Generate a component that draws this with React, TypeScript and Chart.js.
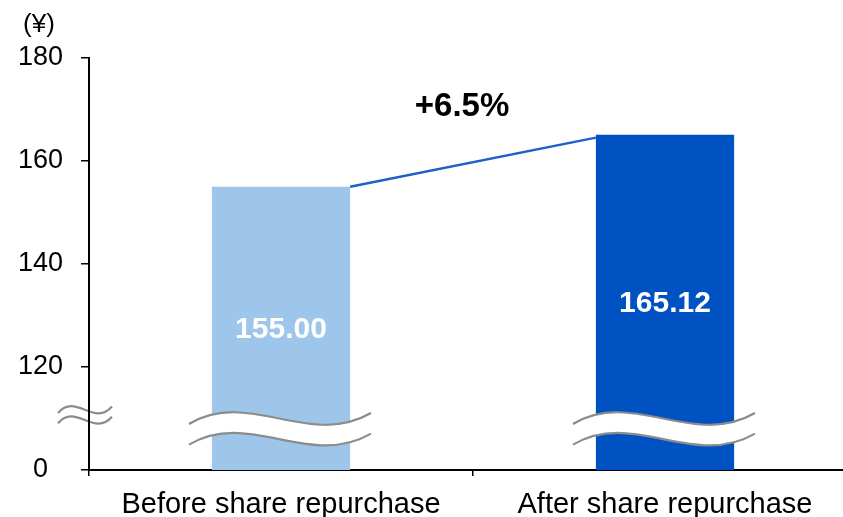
import React, { useEffect, useRef } from "react";
import { Chart, registerables } from "chart.js";

Chart.register(...registerables);

const categories = ["Before share repurchase", "After share repurchase"];
const values = [155.0, 165.12];
const valueLabels = ["155.00", "165.12"];
const barColors = ["#9DC6EA", "#0052C2"];
const yTickValues = [100, 120, 140, 160, 180];
const yTickLabels = ["0", "120", "140", "160", "180"];
const changeLabel = "+6.5%";
const unitLabel = "(¥)";
const axisMin = 100;
const axisMax = 180;
const breakValues = [110, 106];
const axisBreakValues = [111.7, 109.7];
const changeLabelValue = 170.5;

const FONT = "'Liberation Sans', Arial, sans-serif";

function wave(ctx: CanvasRenderingContext2D, x0: number, w: number, y: number, a: number, move: boolean) {
  if (move) ctx.moveTo(x0, y + a);
  ctx.bezierCurveTo(x0 + w * 0.33, y - a * 5.5, x0 + w * 0.66, y + a * 5.5, x0 + w, y - a);
}
function waveBack(ctx: CanvasRenderingContext2D, x0: number, w: number, y: number, a: number) {
  ctx.lineTo(x0 + w, y - a);
  ctx.bezierCurveTo(x0 + w * 0.66, y + a * 5.5, x0 + w * 0.33, y - a * 5.5, x0, y + a);
}

const decorPlugin = {
  id: "decor",
  beforeDraw(chart: any) {
    const ctx = chart.ctx as CanvasRenderingContext2D;
    const ys = chart.scales.y;
    const ax = chart.chartArea.left;
    ctx.save();
    ctx.strokeStyle = "#8C8C8C";
    ctx.lineWidth = 2.2;
    for (const v of axisBreakValues) {
      ctx.beginPath();
      wave(ctx, ax - 31, 54, ys.getPixelForValue(v), 3.2, true);
      ctx.stroke();
    }
    ctx.restore();
  },
  afterDatasetsDraw(chart: any) {
    const ctx = chart.ctx as CanvasRenderingContext2D;
    const ys = chart.scales.y;
    const xs = chart.scales.x;
    const meta = chart.getDatasetMeta(0);
    const bars = meta.data as any[];
    const basePx = ys.getPixelForValue(axisMin);
    ctx.save();
    // connector line
    const b0 = bars[0];
    const b1 = bars[1];
    ctx.strokeStyle = "#1F5FC9";
    ctx.lineWidth = 2.4;
    ctx.beginPath();
    ctx.moveTo(b0.x + b0.width / 2, b0.y);
    ctx.lineTo(b1.x - b1.width / 2, b1.y + 3);
    ctx.stroke();

    // breaks on bars
    const y1 = ys.getPixelForValue(breakValues[0]);
    const y2 = ys.getPixelForValue(breakValues[1]);
    for (const b of bars) {
      const x0 = b.x - 92;
      const w = 182;
      ctx.fillStyle = "#FFFFFF";
      ctx.beginPath();
      wave(ctx, x0, w, y1, 5.5, true);
      waveBack(ctx, x0, w, y2, 5.5);
      ctx.closePath();
      ctx.fill();
      ctx.strokeStyle = "#8C8C8C";
      ctx.lineWidth = 2.2;
      ctx.beginPath();
      wave(ctx, x0, w, y1, 5.5, true);
      ctx.stroke();
      ctx.beginPath();
      wave(ctx, x0, w, y2, 5.5, true);
      ctx.stroke();
    }

    // value labels
    ctx.fillStyle = "#FFFFFF";
    ctx.font = `bold 30px ${FONT}`;
    ctx.textAlign = "center";
    ctx.textBaseline = "middle";
    bars.forEach((b, i) => {
      ctx.fillText(valueLabels[i], b.x, (b.y + basePx) / 2 + 1);
    });

    // change label
    ctx.fillStyle = "#000000";
    ctx.font = `bold 33px ${FONT}`;
    const cx = (xs.getPixelForValue(0) + xs.getPixelForValue(1)) / 2 - 11;
    ctx.fillText(changeLabel, cx, ys.getPixelForValue(changeLabelValue));

    // unit label
    ctx.font = `26px ${FONT}`;
    ctx.fillText(unitLabel, 39, 25);
    ctx.restore();
  },
};

export default function App() {
  const ref = useRef<HTMLCanvasElement | null>(null);
  useEffect(() => {
    if (!ref.current) return;
    Chart.defaults.font.family = FONT;
    const chart = new Chart(ref.current, {
      type: "bar",
      data: {
        labels: categories,
        datasets: [
          {
            data: values,
            backgroundColor: barColors,
            barPercentage: 0.36,
            categoryPercentage: 1,
          },
        ],
      },
      options: {
        responsive: false,
        animation: false,
        devicePixelRatio: 1,
        layout: { padding: { top: 58, left: 0, right: 0, bottom: 0 } },
        plugins: { legend: { display: false }, tooltip: { enabled: false } },
        scales: {
          x: {
            grid: { drawOnChartArea: false, drawTicks: true, tickLength: 6, color: "#000", lineWidth: 1.5 },
            border: { color: "#000", width: 2 },
            ticks: { color: "#000", font: { size: 29, family: FONT }, padding: 12, maxRotation: 0 },
            afterFit: (s: any) => {
              s.height = 47;
            },
          },
          y: {
            min: axisMin,
            max: axisMax,
            afterBuildTicks: (s: any) => {
              s.ticks = yTickValues.map((v) => ({ value: v }));
            },
            grid: { drawOnChartArea: false, drawTicks: true, tickLength: 8, color: "#000", lineWidth: 1.5 },
            border: { color: "#000", width: 2 },
            ticks: {
              color: "#000",
              font: { size: 27, family: FONT },
              padding: 18,
              crossAlign: "center",
              callback: (v: any) => {
                const i = yTickValues.indexOf(Number(v));
                return i >= 0 ? yTickLabels[i] : "";
              },
            },
            afterFit: (s: any) => {
              s.width = 89;
            },
          },
        },
      },
      plugins: [decorPlugin],
    } as any);
    return () => chart.destroy();
  }, []);
  return (
    <div style={{ position: "absolute", left: 0, top: 0, width: 843, height: 517, overflow: "hidden", background: "#fff" }}>
      <canvas ref={ref} width={857} height={517} style={{ display: "block", width: 857, height: 517 }} />
    </div>
  );
}
